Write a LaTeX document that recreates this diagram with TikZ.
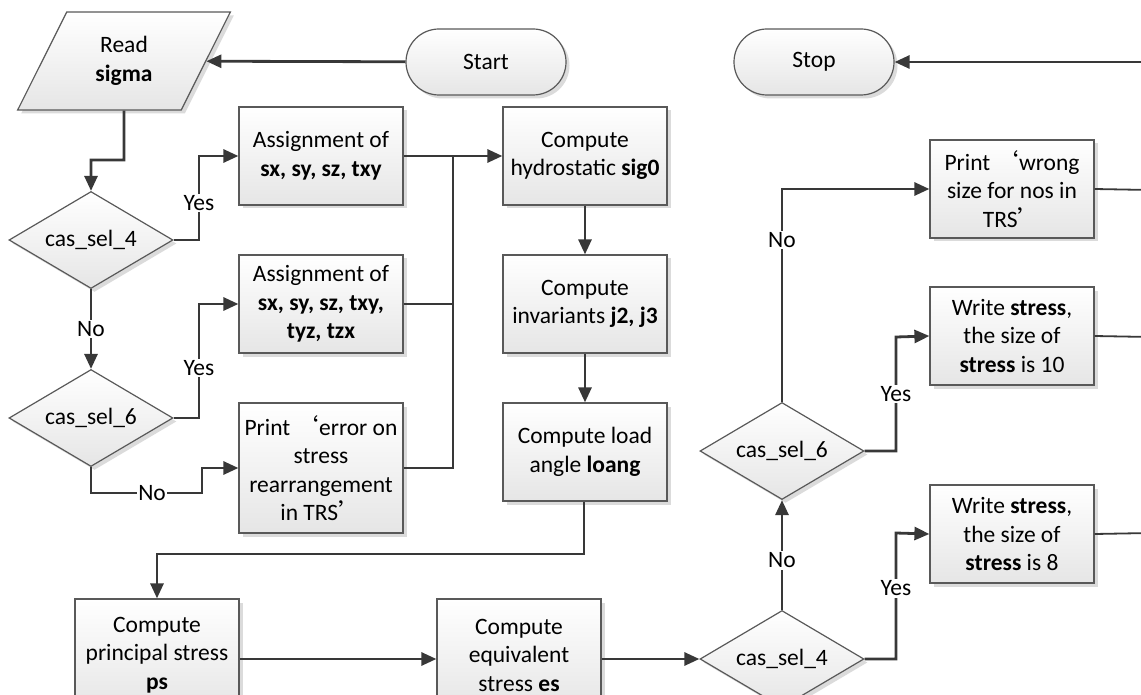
\documentclass[tikz,border=0pt]{standalone}
\usepackage{fontspec}
\setmainfont{Carlito}
\newfontfamily\cjkquote{Noto Sans CJK SC}
\usetikzlibrary{shapes.geometric,shapes.misc,arrows.meta,shadows}
\newcommand{\qopen}{{\cjkquote ‘}}
\newcommand{\qclose}{{\cjkquote ’}}
\begin{document}
\begin{tikzpicture}[x=1pt,y=-1pt,
  every node/.style={font=\fontsize{23.5}{28.5}\selectfont},
  base/.style={draw=black!65, line width=1.2pt, top color=white, bottom color=black!10,
    align=center, inner sep=2pt,
    drop shadow={shadow xshift=3.5pt, shadow yshift=-3.5pt, fill=black!14, opacity=1}},
  proc/.style={base, rectangle, minimum width=164pt, minimum height=98pt},
  decision/.style={base, diamond, shape aspect=1.69, minimum width=164pt, minimum height=97pt, inner sep=0pt},
  terminal/.style={base, rounded rectangle, minimum width=164pt, minimum height=66pt},
  io/.style={base, trapezium, trapezium left angle=63.4, trapezium right angle=116.6,
    trapezium stretches=true, minimum width=213pt, minimum height=98pt, inner sep=0pt},
  conn/.style={draw=black!78, line width=2.8pt},
  thinconn/.style={draw=black!78, line width=1.8pt},
  arr/.style={conn, -{Triangle[length=15pt,width=13pt]}},
  lbl/.style={fill=white, inner sep=1.5pt}
]
\useasboundingbox (0,0) rectangle (1141,695);
\clip (0,0) rectangle (1141,695);

% ---- nodes ----
\node[io] (read) at (124,61) {Read\\\textbf{sigma}};
\node[terminal] (start) at (486,62) {Start};
\node[terminal] (stop) at (814,62) {Stop};

\node[decision] (c4l) at (91,240) {cas\_sel\_4};
\node[decision] (c6l) at (91,418) {cas\_sel\_6};

\node[proc] (as1) at (321,156) {Assignment of\\\textbf{sx, sy, sz, txy}};
\node[proc] (as2) at (321,304) {Assignment of\\\textbf{sx, sy, sz, txy,}\\\textbf{tyz, tzx}};
\node[proc, minimum height=130pt] (err) at (321,468) {Print \qopen error on\\stress\\rearrangement\\in TRS\qclose};

\node[proc] (sig) at (585,156) {Compute\\hydrostatic \textbf{sig0}};
\node[proc] (inv) at (585,304) {Compute\\invariants \textbf{j2, j3}};
\node[proc] (lod) at (585,452) {Compute load\\angle \textbf{loang}};

\node[proc, minimum height=112pt] (ps) at (157,655) {Compute\\principal stress\\\textbf{ps}};
\node[proc, minimum height=112pt] (es) at (519,655) {Compute\\equivalent\\stress \textbf{es}};

\node[decision] (c4r) at (782,659) {cas\_sel\_4};
\node[decision] (c6r) at (782,451) {cas\_sel\_6};

\node[proc] (wrong) at (1012,189) {Print \qopen wrong\\size for nos in\\TRS\qclose};
\node[proc] (w10) at (1012,336) {Write \textbf{stress},\\the size of\\\textbf{stress} is 10};
\node[proc] (w8) at (1012,534) {Write \textbf{stress},\\the size of\\\textbf{stress} is 8};

% ---- bend points and exits ----
\coordinate (k1) at (124,160);
\coordinate (y1) at (199,156);
\coordinate (y2) at (199,304);
\coordinate (n1) at (91,493);
\coordinate (n2) at (202,493);
\coordinate (m1) at (453,156);
\coordinate (m2) at (453,304);
\coordinate (m3) at (453,468);
\coordinate (d1) at (584,554);
\coordinate (y3) at (896,337);
\coordinate (y4) at (896,533);
\coordinate (e0) at (1150,62);
\coordinate (e1) at (1150,190);
\coordinate (e2) at (1150,337);
\coordinate (e3) at (1150,533);
\coordinate (h1) at (240,659);
\coordinate (h2) at (437,659);
\coordinate (h3) at (601,659);

% ---- connectors ----
\draw[arr] (start) -- (read);
\draw[arr] (read.south) -- (k1) -| (c4l.north);
\draw[arr] (c4l.east) -| (y1) node[lbl, pos=0.72] {Yes} -- (as1.west);
\draw[arr] (c4l.south) -- node[lbl] {No} (c6l.north);
\draw[arr] (c6l.east) -| (y2) node[lbl, pos=0.72] {Yes} -- (as2.west);
\draw[arr] (c6l.south) -- (n1) -- node[lbl, pos=0.55] {No} (n2) |- (err.west);

\draw[arr] (as1.east) -- (sig.west);
\draw[conn] (as2.east) -- (m2);
\draw[conn] (err.east) -- (m3) -- (m1);

\draw[arr] (sig.south) -- (inv.north);
\draw[arr] (inv.south) -- (lod.north);
\draw[arr] (lod.south -| d1) -- (d1) -| (ps.north);

\draw[arr] (ps.east |- h1) -- (es.west |- h2);
\draw[arr] (es.east |- h3) -- (c4r.west);
\draw[arr] (c4r.north) -- node[lbl, pos=0.45] {No} (c6r.south);
\draw[arr] (c6r.north) |- node[lbl, pos=0.38] {No} (wrong.west);
\draw[arr] (c6r.east) -| (y3) node[lbl, pos=0.75] {Yes} -- (w10.west);
\draw[arr] (c4r.east) -| (y4) node[lbl, pos=0.78] {Yes} -- (w8.west);

\draw[thinconn] (wrong.east) -- (e1);
\draw[thinconn] (w10.east) -- (e2);
\draw[thinconn] (w8.east) -- (e3);
\draw[arr] (e0) -- (stop.east);
\end{tikzpicture}
\end{document}
